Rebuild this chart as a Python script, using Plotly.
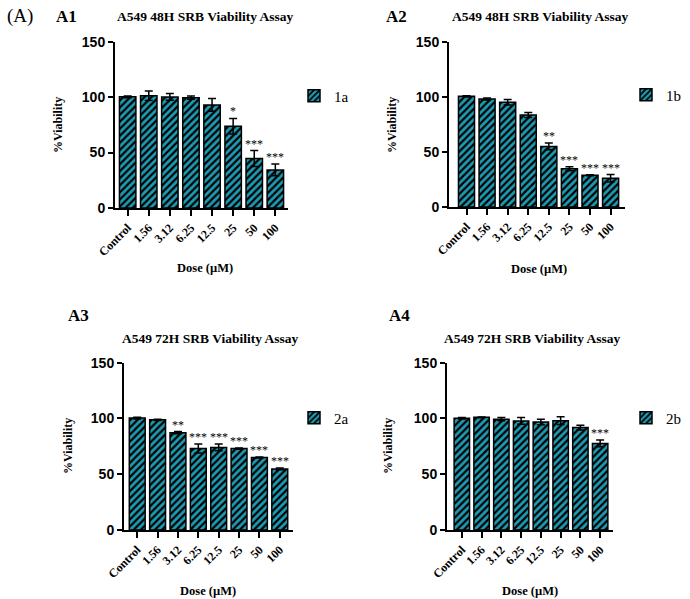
#A549 SRB viability assay - four panels (48H / 72H, compounds 1a 1b 2a 2b)
import plotly.graph_objects as go

doses = ["Control", "1.56", "3.12", "6.25", "12.5", "25", "50", "100"]

via_1a = [100.3, 101.2, 100.2, 99.5, 93.0, 73.8, 44.6, 34.3]
err_1a = [0.8, 4.3, 3.0, 1.5, 5.8, 7.0, 7.2, 5.3]
sig_1a = ["", "", "", "", "", "*", "***", "***"]

via_1b = [100.4, 98.0, 95.0, 83.5, 55.0, 34.8, 28.8, 26.0]
err_1b = [0.6, 1.0, 2.5, 2.2, 3.0, 1.8, 0.5, 3.4]
sig_1b = ["", "", "", "", "**", "***", "***", "***"]

via_2a = [100.4, 98.8, 87.3, 73.0, 74.0, 73.0, 65.0, 54.8]
err_2a = [0.8, 0.6, 1.0, 4.0, 3.0, 0.6, 0.4, 0.8]
sig_2a = ["", "", "**", "***", "***", "***", "***", "***"]

via_2b = [100.2, 101.0, 99.4, 97.8, 96.8, 98.0, 91.8, 77.6]
err_2b = [0.7, 0.3, 1.5, 3.0, 2.5, 3.5, 2.2, 3.0]
sig_2b = ["", "", "", "", "", "", "", "***"]

names = ["1a", "1b", "2a", "2b"]
titles = ["A549 48H SRB Viability Assay", "A549 48H SRB Viability Assay",
          "A549 72H SRB Viability Assay", "A549 72H SRB Viability Assay"]
labels = ["A1", "A2", "A3", "A4"]

W, H = 690, 599
SERIF = "Liberation Serif"
SANS = "Liberation Sans"
TEAL = "#1d9bb3"

def px(x):
    return x / W

def py(y):
    return 1 - y / H

# pixel layout of each panel: plot box (left, right, y of 0, y of 150), x range,
# title / label / legend / axis title positions
panels = [
    dict(box=(115, 288, 208, 41.7), xr=[-0.6, 7.6], title=(205, 16), lab=(66, 16),
         leg=(294, 96), ytit=(58, 125), xtit=(205, 268)),
    dict(box=(449, 625, 207, 41.7), xr=[-0.85, 7.7], title=(540, 16), lab=(396, 16),
         leg=(626, 95), ytit=(392, 125), xtit=(539, 269)),
    dict(box=(124, 293, 530, 362.7), xr=[-0.65, 7.65], title=(210, 338), lab=(78, 315),
         leg=(294, 418), ytit=(68, 446), xtit=(208, 591)),
    dict(box=(447, 613, 530, 362.7), xr=[-0.75, 7.65], title=(532, 338), lab=(399, 315),
         leg=(626, 418), ytit=(388, 446), xtit=(530, 591)),
]

data = [(via_1a, err_1a, sig_1a), (via_1b, err_1b, sig_1b),
        (via_2a, err_2a, sig_2a), (via_2b, err_2b, sig_2b)]

fig = go.Figure()
annotations = []

def txt(x, y, text, size, family=SERIF, angle=0):
    return dict(x=px(x), y=py(y), xref="paper", yref="paper", text=text, showarrow=False,
                xanchor="center", yanchor="middle", textangle=angle,
                font=dict(family=family, size=size, color="black"))

for i, (p, (vals, errs, sig)) in enumerate(zip(panels, data)):
    n = "" if i == 0 else str(i + 1)
    leg = "legend" + n
    fig.add_trace(go.Bar(
        x=doses, y=vals, name=names[i],
        xaxis="x" + n, yaxis="y" + n, legend=leg,
        marker=dict(color=TEAL, line=dict(color="black", width=1.5),
                    pattern=dict(shape="/", fgcolor="black", bgcolor=TEAL,
                                 size=5, solidity=0.45, fillmode="replace")),
        error_y=dict(type="data", array=errs, color="black", thickness=1.5, width=4),
    ))

    left, right, bottom, top = p["box"]
    axis_common = dict(showline=True, linecolor="black", linewidth=2, ticks="outside",
                       tickcolor="black", tickwidth=2, showgrid=False, zeroline=False)
    fig.update_layout(**{
        "xaxis" + n: dict(domain=[px(left), px(right)], anchor="y" + n, type="category",
                          range=p["xr"], ticklen=6, tickangle=-45,
                          tickfont=dict(family=SERIF, size=12, color="black", weight="bold"),
                          **axis_common),
        "yaxis" + n: dict(domain=[py(bottom), py(top)], anchor="x" + n, range=[0, 150],
                          tickvals=[0, 50, 100, 150], ticklen=5,
                          tickfont=dict(family=SANS, size=14, color="black", weight="bold"),
                          **axis_common),
        leg: dict(x=px(p["leg"][0]), y=py(p["leg"][1]), xanchor="left", yanchor="middle",
                  font=dict(family=SERIF, size=15, color="black"), bgcolor="rgba(0,0,0,0)"),
    })

    # significance stars above the error bars (x given as category index)
    for k, (v, e, s) in enumerate(zip(vals, errs, sig)):
        if s:
            annotations.append(dict(x=k, y=v + e, xref="x" + n, yref="y" + n, text=s,
                                    showarrow=False, yanchor="bottom", yshift=-2,
                                    font=dict(family=SERIF, size=12, color="black")))

    annotations.append(txt(*p["title"], "<b>" + titles[i] + "</b>", 13.5))
    annotations.append(txt(*p["lab"], "<b>" + labels[i] + "</b>", 17))
    annotations.append(txt(*p["ytit"], "<b>%Viability</b>", 12, angle=-90))
    annotations.append(txt(*p["xtit"], "<b>Dose (µM)</b>", 12.5))

annotations.append(txt(20, 16, "(A)", 19))

fig.update_layout(
    width=W, height=H,
    margin=dict(l=0, r=0, t=0, b=0, autoexpand=False),
    paper_bgcolor="white", plot_bgcolor="white",
    bargap=0.22, showlegend=True,
    annotations=annotations,
)

# drop the browser's default 8px body margin so the figure sits at the page corner
fig.write_html("out.html", config={"displayModeBar": False},
               post_script="document.body.style.margin='0';")
